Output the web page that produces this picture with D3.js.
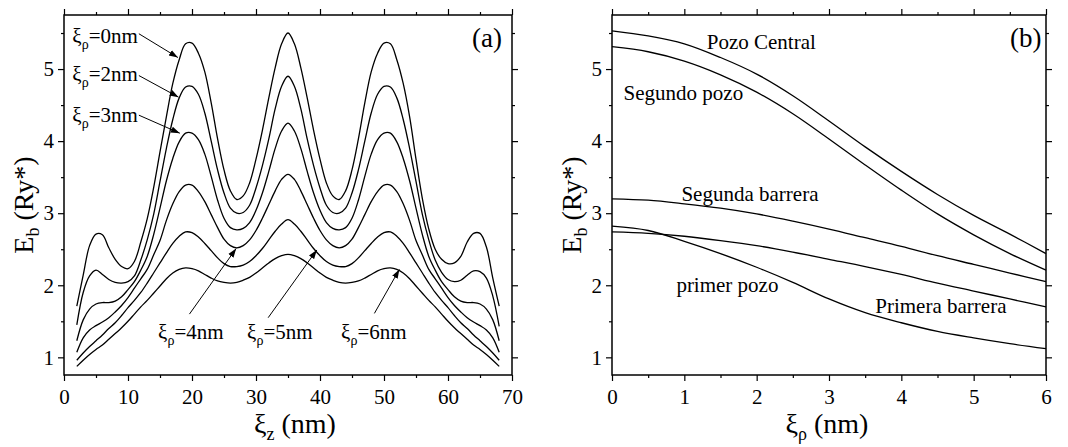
<!DOCTYPE html>
<html><head><meta charset="utf-8">
<script src="https://cdn.jsdelivr.net/npm/d3@7"></script>
<style>
body{margin:0;background:#fff}
svg text{font-family:"Liberation Serif","Times New Roman",Times,serif !important;fill:#000}
</style>
</head><body>
<svg id="chart" width="1068" height="447" font-family="Liberation Serif"></svg>
<script>
// ---------- DATA ----------
// Panel (a): binding energy vs impurity position xi_z, for several xi_rho
const zPositions = [2,3,4,5,6,7,8,9,10,11,12,13,14,15,16,17,18,19,20,21,22,23,24,25,26,27,28,29,30,31,32,33,34,35,
  36,37,38,39,40,41,42,43,44,45,46,47,48,49,50,51,52,53,54,55,56,57,58,59,60,61,62,63,64,65,66,67,68];
const ebRho0 = [1.71,2.14,2.55,2.71,2.70,2.52,2.36,2.26,2.23,2.33,2.60,2.92,3.35,3.85,4.34,4.80,5.13,5.35,5.36,5.22,4.96,4.53,4.03,3.60,3.31,3.19,3.24,3.42,3.75,4.15,4.60,5.02,5.35,5.50,
  5.35,5.02,4.60,4.15,3.75,3.42,3.24,3.19,3.31,3.60,4.03,4.53,4.96,5.22,5.36,5.35,5.13,4.80,4.34,3.75,3.20,2.78,2.50,2.36,2.30,2.31,2.40,2.60,2.72,2.72,2.53,2.10,1.71];
const ebRho2 = [1.45,1.90,2.13,2.21,2.15,2.08,2.04,2.03,2.05,2.13,2.35,2.63,2.98,3.44,3.90,4.30,4.60,4.75,4.76,4.65,4.39,4.00,3.60,3.28,3.07,3.00,3.01,3.11,3.35,3.66,4.03,4.45,4.76,4.90,
  4.76,4.45,4.03,3.66,3.35,3.11,3.01,3.00,3.07,3.28,3.60,4.00,4.39,4.65,4.76,4.75,4.60,4.30,3.90,3.44,2.98,2.63,2.35,2.18,2.08,2.05,2.07,2.14,2.20,2.19,2.10,1.85,1.43];
const ebRho3 = [1.23,1.52,1.67,1.74,1.76,1.76,1.78,1.84,1.94,2.05,2.21,2.40,2.70,3.07,3.45,3.76,3.99,4.11,4.11,4.02,3.82,3.51,3.18,2.93,2.80,2.77,2.79,2.87,3.04,3.28,3.58,3.90,4.14,4.25,
  4.14,3.90,3.58,3.28,3.04,2.87,2.79,2.77,2.80,2.93,3.18,3.51,3.82,4.02,4.11,4.11,3.99,3.76,3.45,3.07,2.70,2.40,2.21,2.05,1.94,1.84,1.78,1.76,1.76,1.74,1.67,1.52,1.23];
const ebRho4 = [1.07,1.27,1.38,1.44,1.49,1.55,1.63,1.72,1.83,1.96,2.09,2.22,2.42,2.62,2.90,3.13,3.30,3.39,3.39,3.30,3.16,2.98,2.80,2.64,2.55,2.52,2.55,2.63,2.76,2.93,3.12,3.31,3.47,3.54,
  3.47,3.31,3.12,2.93,2.76,2.63,2.55,2.52,2.55,2.64,2.80,2.98,3.16,3.30,3.39,3.39,3.30,3.13,2.90,2.62,2.42,2.22,2.09,1.96,1.83,1.72,1.63,1.55,1.49,1.44,1.38,1.27,1.07];
const ebRho5 = [0.96,1.06,1.15,1.23,1.31,1.40,1.48,1.58,1.69,1.79,1.90,2.03,2.17,2.31,2.45,2.58,2.68,2.74,2.73,2.67,2.58,2.48,2.38,2.30,2.26,2.26,2.28,2.33,2.41,2.51,2.63,2.75,2.85,2.91,
  2.85,2.75,2.63,2.51,2.41,2.33,2.28,2.26,2.26,2.30,2.38,2.48,2.58,2.67,2.73,2.74,2.68,2.58,2.45,2.31,2.17,2.03,1.90,1.79,1.69,1.58,1.48,1.40,1.31,1.23,1.15,1.06,0.96];
const ebRho6 = [0.875,0.96,1.04,1.11,1.17,1.25,1.33,1.41,1.50,1.60,1.70,1.79,1.89,1.99,2.09,2.17,2.22,2.24,2.23,2.20,2.15,2.10,2.06,2.04,2.03,2.04,2.07,2.11,2.17,2.24,2.31,2.37,2.41,2.43,
  2.41,2.37,2.31,2.24,2.17,2.11,2.07,2.04,2.03,2.04,2.06,2.10,2.15,2.20,2.23,2.24,2.22,2.17,2.09,1.99,1.89,1.79,1.70,1.60,1.50,1.41,1.33,1.25,1.17,1.11,1.04,0.96,0.875];
const seriesA = [ebRho0, ebRho2, ebRho3, ebRho4, ebRho5, ebRho6];

// Panel (b): binding energy vs xi_rho for impurity in each layer
const rhoPositions = [0,0.5,1,1.5,2,2.5,3,3.5,4,4.5,5,5.5,6];
const ebPozoCentral    = [5.53,5.46,5.35,5.16,4.93,4.63,4.28,3.92,3.58,3.26,2.97,2.71,2.44];
const ebSegundoPozo    = [5.31,5.24,5.11,4.92,4.68,4.38,4.03,3.67,3.32,2.99,2.70,2.44,2.21];
const ebSegundaBarrera = [3.20,3.18,3.13,3.07,2.99,2.89,2.78,2.66,2.54,2.41,2.29,2.17,2.05];
const ebPrimeraBarrera = [2.74,2.72,2.68,2.62,2.55,2.46,2.36,2.26,2.15,2.03,1.92,1.81,1.70];
const ebPrimerPozo     = [2.82,2.76,2.61,2.44,2.25,2.04,1.81,1.62,1.48,1.36,1.27,1.19,1.12];
const seriesB = [ebPozoCentral, ebSegundoPozo, ebSegundaBarrera, ebPrimeraBarrera, ebPrimerPozo];

// Ticks
const xTicksA = [0,10,20,30,40,50,60,70];
const xMinorA = [5,15,25,35,45,55,65];
const xTicksB = [0,1,2,3,4,5,6];
const xMinorB = [0.5,1.5,2.5,3.5,4.5,5.5];
const yTicks = [1,2,3,4,5];
const yMinor = [1.5,2.5,3.5,4.5,5.5];

// Annotations (data coordinates)
const annotA = [
  {rho:"0", lx:1.3, ly:5.36, tail:[11.7,5.49], tip:[17.8,5.16]},
  {rho:"2", lx:1.3, ly:4.83, tail:[11.7,4.91], tip:[17.9,4.61]},
  {rho:"3", lx:1.3, ly:4.27, tail:[11.7,4.36], tip:[18.1,4.11]},
  {rho:"4", lx:14.7, ly:1.25, tail:[19.6,1.60], tip:[26.9,2.51]},
  {rho:"5", lx:28.6, ly:1.25, tail:[31.9,1.55], tip:[39.5,2.49]},
  {rho:"6", lx:43.3, ly:1.25, tail:[48.5,1.61], tip:[52.4,2.22]}
];
const labelsB = [
  {t:"Pozo Central", x:1.31, y:5.28},
  {t:"Segundo pozo", x:0.16, y:4.57},
  {t:"Segunda barrera", x:0.96, y:3.17},
  {t:"primer pozo", x:0.89, y:1.91},
  {t:"Primera barrera", x:3.64, y:1.62}
];

// ---------- DRAW ----------
const FONT = '"Liberation Serif","Times New Roman",serif';
const svg = d3.select("#chart");
svg.append("rect").attr("width",1068).attr("height",447).attr("fill","#fff");
svg.append("defs").append("marker")
  .attr("id","arr").attr("viewBox","0 0 10 10").attr("refX",10).attr("refY",5)
  .attr("markerWidth",9).attr("markerHeight",9).attr("markerUnits","userSpaceOnUse")
  .attr("orient","auto")
  .append("path").attr("d","M0,1.5 L10,5 L0,8.5 Z").attr("fill","#000");

const plotTop = 15, plotBottom = 375;
const yDomain = [0.755, 5.75];

function panel(left, right, xDomain, xTicks, xMinor, xTitleSub, xTitleX, tagX, tagText) {
  const g = svg.append("g");
  const x = d3.scaleLinear().domain(xDomain).range([left, right]);
  const y = d3.scaleLinear().domain(yDomain).range([plotBottom, plotTop]);
  const fmt = d3.format("d");
  function styleAxis(sel) {
    sel.attr("font-family", null).attr("font-size", null);
    sel.selectAll(".domain").remove();
    sel.selectAll("line").attr("stroke","#000").attr("stroke-width",1.2);
    sel.selectAll("text").style("font-family",FONT).style("font-size","21px").attr("fill","#000");
  }
  g.append("g").attr("transform",`translate(0,${plotBottom})`)
    .call(d3.axisBottom(x).tickValues(xTicks).tickFormat(fmt).tickSize(6).tickPadding(8)).call(styleAxis);
  g.append("g").attr("transform",`translate(0,${plotBottom})`)
    .call(d3.axisBottom(x).tickValues(xMinor).tickFormat("").tickSize(3)).call(styleAxis);
  g.append("g").attr("transform",`translate(0,${plotTop})`)
    .call(d3.axisTop(x).tickValues(xTicks).tickFormat("").tickSize(6)).call(styleAxis);
  g.append("g").attr("transform",`translate(0,${plotTop})`)
    .call(d3.axisTop(x).tickValues(xMinor).tickFormat("").tickSize(3)).call(styleAxis);
  g.append("g").attr("transform",`translate(${left},0)`)
    .call(d3.axisLeft(y).tickValues(yTicks).tickFormat(fmt).tickSize(6).tickPadding(4)).call(styleAxis);
  g.append("g").attr("transform",`translate(${left},0)`)
    .call(d3.axisLeft(y).tickValues(yMinor).tickFormat("").tickSize(3)).call(styleAxis);
  g.append("g").attr("transform",`translate(${right},0)`)
    .call(d3.axisRight(y).tickValues(yTicks).tickFormat("").tickSize(6)).call(styleAxis);
  g.append("g").attr("transform",`translate(${right},0)`)
    .call(d3.axisRight(y).tickValues(yMinor).tickFormat("").tickSize(3)).call(styleAxis);
  g.append("rect").attr("x",left).attr("y",plotTop).attr("width",right-left).attr("height",plotBottom-plotTop)
    .attr("fill","none").attr("stroke","#000").attr("stroke-width",1.5);
  const yt = g.append("text").attr("transform",`translate(${left-31},${(plotTop+plotBottom)/2+10}) rotate(-90)`)
    .attr("text-anchor","middle").style("font-family",FONT).style("font-size","28px");
  yt.append("tspan").text("E");
  yt.append("tspan").text("b").style("font-size","18px").attr("dy",6);
  yt.append("tspan").text(" (Ry*)").attr("dy",-6);
  const xt = g.append("text").attr("x",xTitleX).attr("y",433).attr("text-anchor","middle")
    .style("font-family",FONT).style("font-size","28px");
  xt.append("tspan").text("ξ");
  xt.append("tspan").text(xTitleSub).style("font-size","18px").attr("dy",7);
  xt.append("tspan").text(" (nm)").attr("dy",-7);
  g.append("text").attr("x",tagX).attr("y",47).style("font-family",FONT).style("font-size","27px").text(tagText);
  return {g,x,y};
}

// Panel (a)
const A = panel(64, 512, [0,70], xTicksA, xMinorA, "z", 295, 472, "(a)");
const lineA = d3.line().x((d,i)=>A.x(zPositions[i])).y(d=>A.y(d)).curve(d3.curveCatmullRom.alpha(0.5));
A.g.append("g").selectAll("path").data(seriesA).join("path")
  .attr("d",lineA).attr("fill","none").attr("stroke","#000").attr("stroke-width",1.3);
annotA.forEach(a=>{
  A.g.append("line")
    .attr("x1",A.x(a.tail[0])).attr("y1",A.y(a.tail[1]))
    .attr("x2",A.x(a.tip[0])).attr("y2",A.y(a.tip[1]))
    .attr("stroke","#000").attr("stroke-width",1).attr("marker-end","url(#arr)");
  const t = A.g.append("text").attr("x",A.x(a.lx)).attr("y",A.y(a.ly))
    .style("font-family",FONT).style("font-size","21px");
  t.append("tspan").text("ξ");
  t.append("tspan").text("ρ").style("font-size","14px").attr("dy",6);
  t.append("tspan").text("=" + a.rho + "nm").attr("dy",-6);
});

// Panel (b)
const B = panel(612, 1046, [0,6], xTicksB, xMinorB, "ρ", 827, 1010, "(b)");
const lineB = d3.line().x((d,i)=>B.x(rhoPositions[i])).y(d=>B.y(d)).curve(d3.curveCatmullRom.alpha(0.5));
B.g.append("g").selectAll("path").data(seriesB).join("path")
  .attr("d",lineB).attr("fill","none").attr("stroke","#000").attr("stroke-width",1.3);
B.g.selectAll("text.lab").data(labelsB).join("text").attr("class","lab")
  .attr("x",d=>B.x(d.x)).attr("y",d=>B.y(d.y))
  .style("font-family",FONT).style("font-size","21px").text(d=>d.t);
</script>
</body></html>
